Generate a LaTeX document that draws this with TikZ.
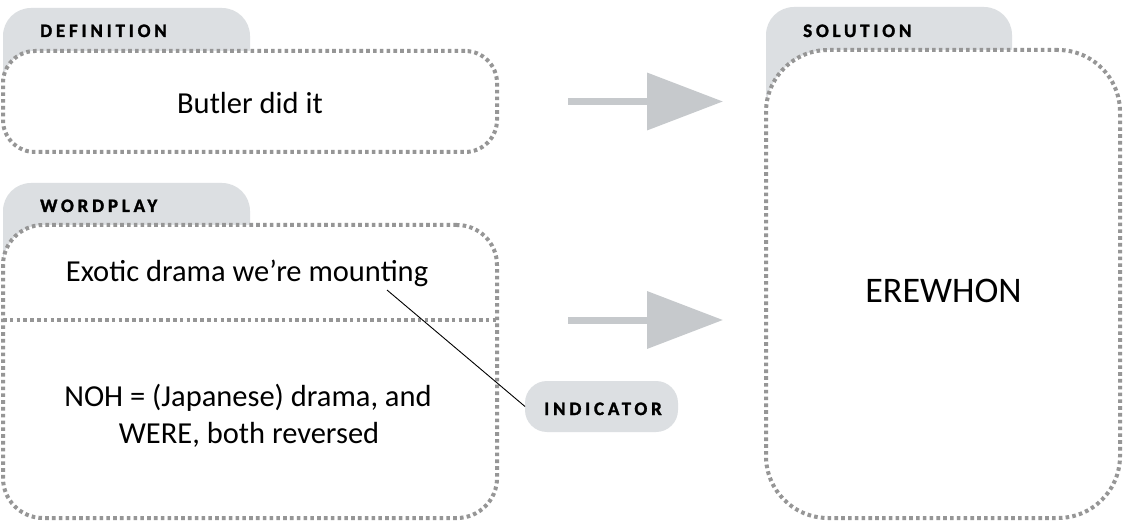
\documentclass[tikz,border=0pt]{standalone}
\usepackage{fontspec}
\setmainfont{Carlito}
\newfontfamily\labfont[LetterSpace=20,BoldFeatures={FakeBold=1.6}]{Carlito}
\usetikzlibrary{arrows.meta}
\definecolor{tabgray}{HTML}{DCDFE2}
\definecolor{dotgray}{HTML}{969696}
\definecolor{arrowgray}{HTML}{C6C9CC}
\tikzset{
  tabshape/.style={fill=tabgray, rounded corners=28pt},
  dotbox/.style={draw=dotgray, fill=white, line width=4pt,
    dash pattern=on 3.6pt off 3.2pt, outer sep=0pt, inner sep=0pt},
  dotline/.style={draw=dotgray, line width=4pt, dash pattern=on 3.6pt off 3.2pt},
  maintext/.style={font=\fontsize{30.5}{36}\selectfont, anchor=base, inner sep=0pt},
  labtext/.style={font=\labfont\bfseries\fontsize{19}{19}\selectfont, anchor=base west, inner sep=0pt},
  bigarrow/.style={draw=arrowgray, line width=7pt,
    -{Triangle[length=76pt,width=56pt]}, shorten >=43pt},
  pill/.style={fill=tabgray, rounded corners=22pt, minimum width=153pt,
    minimum height=51pt, inner sep=0pt, outer sep=0pt},
}
\begin{document}
\begin{tikzpicture}[x=1pt,y=-1pt]
\useasboundingbox[fill=white] (0,0) rectangle (1124,521);

% tabs
\fill[tabshape] (3,8) rectangle (250,100);
\fill[tabshape] (3,183) rectangle (250,280);
\fill[tabshape] (766,7) rectangle (1012,120);

% boxes
\node[dotbox, rounded corners=32pt, minimum width=494pt, minimum height=101pt] (def) at (250,101.5) {};
\node[dotbox, rounded corners=40pt, minimum width=494pt, minimum height=293pt] (wp) at (250,371.5) {};
\node[dotbox, rounded corners=62pt, minimum width=354pt, minimum height=468pt] (sol) at (943,284) {};

% divider
\coordinate (split) at (250,320);
\draw[dotline] (wp.west |- split) -- (wp.east |- split);

% labels
\node[labtext] (deflab) at (40,37) {DEFINITION};
\node[labtext] (wplab) at (40,212) {WORDPLAY};
\node[labtext] (sollab) at (803,37) {SOLUTION};

% texts
\node[maintext] (deftxt) at (250,114) {Butler did it};
\node[maintext] (clue) at (247,282) {Exotic drama we’re mounting};
\node[maintext] (wp1) at (248,406) {NOH = (Japanese) drama, and};
\node[maintext] (wp2) at (249,443) {WERE, both reversed};
\node[maintext, font=\fontsize{36}{40}\selectfont] (ans) at (943.5,302) {EREWHON};

% indicator
\node[pill] (ind) at (601.5,406.5) {};
\node[labtext, anchor=base] (indlab) at (603,415) {INDICATOR};
\coordinate (mnt) at (387,290);
\draw[line width=0.9pt] (mnt) -- (ind.west);

% arrows
\draw[bigarrow] ([xshift=71pt]def.east) -- (def.east -| sol.west);
\draw[bigarrow] ([xshift=71pt]wp.east |- split) -- (sol.west |- split);
\end{tikzpicture}
\end{document}
